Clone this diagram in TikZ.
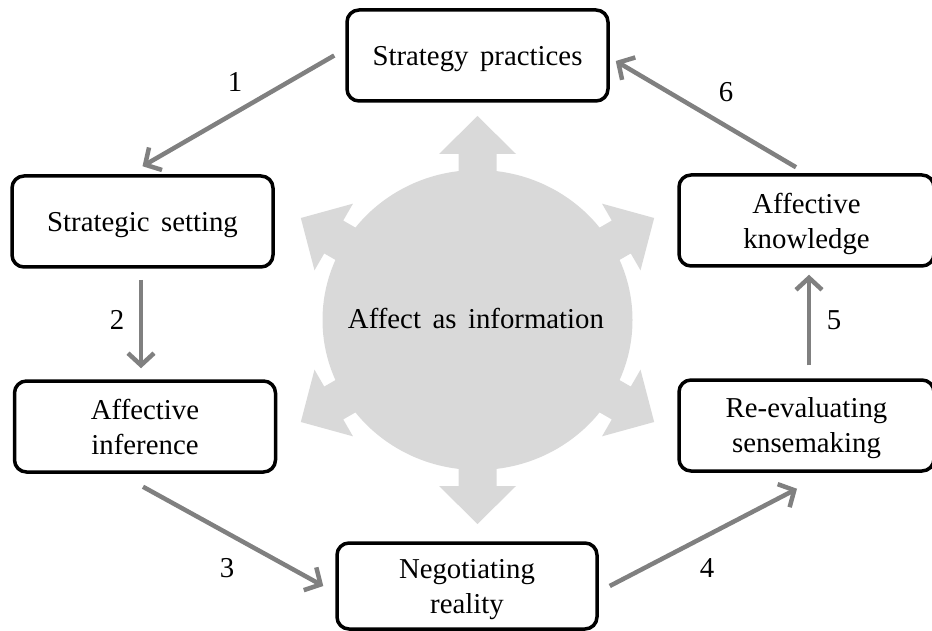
\documentclass[tikz,border=0pt]{standalone}
\usepackage{fontspec}
\setmainfont{Liberation Serif}[WordSpace=1.6]
\usetikzlibrary{arrows.meta}

\definecolor{hubgray}{HTML}{D9D9D9}
\definecolor{flowgray}{HTML}{808080}

\tikzset{
  stage/.style={draw=black, line width=3.5pt, rounded corners=12pt, fill=white,
    minimum width=261pt, minimum height=91pt, inner sep=0pt, align=center,
    text depth=0pt, font=\fontsize{28.8}{35}\selectfont},
  flow/.style={draw=flowgray, line width=4.5pt,
    -{Straight Barb[length=12pt, width=26pt]}},
  steplabel/.style={inner sep=0pt, font=\fontsize{28.8}{35}\selectfont},
  hubtext/.style={inner sep=0pt, font=\fontsize{28.8}{35}\selectfont},
}

\begin{document}
\begin{tikzpicture}[x=1pt, y=-1pt]
  \useasboundingbox (0,0) rectangle (932,631);

  % central hub: disc with six outward arrows
  \coordinate (c) at (477.5,320);
  \foreach \a in {30,90,150,210,270,330}{
    \fill[hubgray, shift={(c)}, rotate=\a]
      (0,-19) -- (166,-19) -- (166,-38.5) -- (204,0) -- (166,38.5)
      -- (166,19) -- (0,19) -- cycle;
  }
  \fill[hubgray] (c) ellipse [x radius=155pt, y radius=150pt];
  \node[hubtext] (hub) at (476,319) {Affect as information};

  % stages of the cycle
  \node[stage] (sp) at (477.5,55.5) {Strategy practices};
  \node[stage] (ss) at (142.5,221.5) {Strategic setting};
  \node[stage] (ai) at (145,426.5) {Affective\\inference};
  \node[stage, minimum width=260pt, minimum height=86pt] (nr) at (467,586) {Negotiating\\reality};
  \node[stage, minimum width=255pt] (re) at (806.5,425.5) {Re-evaluating\\sensemaking};
  \node[stage, minimum width=255pt] (ak) at (806.5,220.5) {Affective\\knowledge};

  % connectors between stages
  \coordinate (t2) at (ss.south |- ai.north);
  \draw[flow] ([xshift=-11pt]sp.west) -- ([yshift=8pt]ss.north);
  \draw[flow] ([xshift=-1.5pt, yshift=-11pt]ss.south) -- ([xshift=-1.5pt, yshift=11pt]t2);
  \draw[flow] ([xshift=-2pt, yshift=-13pt]ai.south) -- ([xshift=-12pt]nr.west);
  \draw[flow] ([xshift=11pt]nr.east) -- ([xshift=-9.5pt, yshift=-16pt]re.south);
  \draw[flow] ([xshift=2.5pt, yshift=13pt]re.north) -- ([xshift=2.5pt, yshift=-7pt]ak.south);
  \draw[flow] ([xshift=-10.5pt, yshift=6pt]ak.north) -- ([xshift=6pt, yshift=-5.5pt]sp.east);

  % step numbers
  \node[steplabel] (n1) at (235,82) {1};
  \node[steplabel] (n2) at (117,320) {2};
  \node[steplabel] (n3) at (227,568) {3};
  \node[steplabel] (n4) at (707,568) {4};
  \node[steplabel] (n5) at (834,320) {5};
  \node[steplabel] (n6) at (726,92) {6};
\end{tikzpicture}
\end{document}
